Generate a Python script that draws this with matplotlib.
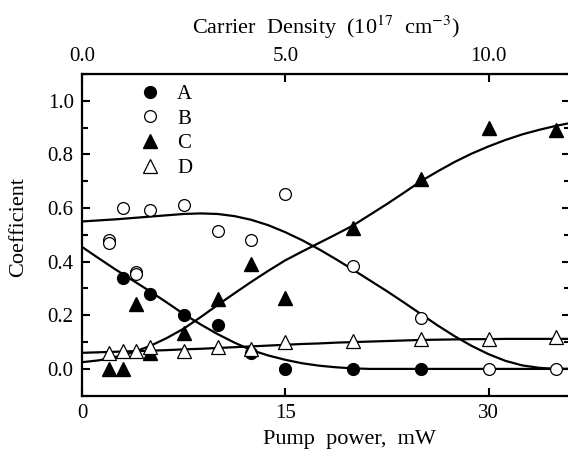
import numpy as np
import matplotlib
matplotlib.use("Agg")
import matplotlib.pyplot as plt

plt.rcParams['font.family'] = ['Liberation Serif', 'DejaVu Serif']
plt.rcParams['mathtext.fontset'] = 'stix'

# measured points (pump power in mW)
a_x = [3, 5, 7.5, 10, 12.5, 15, 20, 25]
a_y = [0.34, 0.28, 0.20, 0.165, 0.06, 0.0, 0.0, 0.0]

b_x = [2, 2, 3, 4, 4, 5, 7.5, 10, 12.5, 15, 20, 25, 30, 35]
b_y = [0.48, 0.47, 0.60, 0.36, 0.355, 0.593, 0.613, 0.516, 0.481, 0.652, 0.385, 0.19, 0.0, 0.0]

c_x = [2, 3, 4, 5, 7.5, 10, 12.5, 15, 20, 25, 30, 35]
c_y = [0.0, 0.0, 0.243, 0.061, 0.135, 0.26, 0.392, 0.266, 0.525, 0.708, 0.90, 0.89]

d_x = [2, 3, 4, 5, 7.5, 10, 12.5, 15, 20, 25, 30, 35]
d_y = [0.061, 0.067, 0.065, 0.083, 0.065, 0.08, 0.073, 0.10, 0.105, 0.112, 0.112, 0.118]

# fitted curves
fit_x = [0, 1.25, 2.5, 3.75, 5, 6.25, 7.5, 8.75, 10, 11.25, 12.5, 13.75, 15, 16.25,
         17.5, 18.75, 20, 21.25, 22.5, 23.75, 25, 26.25, 27.5, 28.75, 30, 31.25,
         32.5, 33.75, 35, 36]
fit_a = [0.455, 0.412, 0.37, 0.33, 0.29, 0.248, 0.205, 0.166, 0.13, 0.098, 0.07, 0.05,
         0.034, 0.021, 0.012, 0.006, 0.002, 0.0, 0.0, 0.0, 0.0, 0.0, 0.0, 0.0, 0.0,
         0.0, 0.0, 0.0, 0.0, 0.0]
fit_b = [0.55, 0.554, 0.558, 0.563, 0.568, 0.573, 0.578, 0.58, 0.578, 0.57, 0.556, 0.536,
         0.51, 0.48, 0.446, 0.409, 0.37, 0.33, 0.29, 0.248, 0.205, 0.162, 0.122, 0.086,
         0.055, 0.03, 0.013, 0.004, 0.0, 0.0]
fit_c = [0.025, 0.032, 0.045, 0.062, 0.085, 0.115, 0.15, 0.193, 0.238, 0.282, 0.325,
         0.366, 0.405, 0.438, 0.47, 0.502, 0.535, 0.575, 0.615, 0.657, 0.70, 0.737,
         0.772, 0.803, 0.83, 0.854, 0.875, 0.892, 0.907, 0.917]
fit_d = [0.06, 0.062, 0.064, 0.066, 0.068, 0.07, 0.073, 0.075, 0.078, 0.081, 0.084,
         0.087, 0.09, 0.093, 0.095, 0.098, 0.10, 0.102, 0.104, 0.106, 0.108, 0.109,
         0.11, 0.111, 0.111, 0.112, 0.112, 0.112, 0.112, 0.112]

fig = plt.figure(figsize=(5.68, 4.55), dpi=100)
ax = fig.add_axes([0.1444, 0.1303, 0.8588, 0.7070])

for fy in (fit_a, fit_b, fit_c, fit_d):
    ax.plot(fit_x, fy, color='black', lw=1.6, zorder=2)

ms = 8.5
ax.plot(a_x, a_y, 'o', ms=ms, mfc='black', mec='black', ls='none', label='A', zorder=3)
ax.plot(b_x, b_y, 'o', ms=ms, mfc='white', mec='black', mew=0.9, ls='none', label='B', zorder=3)
ax.plot(c_x, c_y, '^', ms=ms + 1, mfc='black', mec='black', ls='none', label='C', zorder=3)
ax.plot(d_x, d_y, '^', ms=ms + 1, mfc='white', mec='black', mew=0.9, ls='none', label='D', zorder=3)

ax.set_xlim(0, 36)
ax.set_ylim(-0.1, 1.1)
ax.set_xticks([0, 15, 30])
ax.set_yticks([0.0, 0.2, 0.4, 0.6, 0.8, 1.0])
ax.set_yticks(np.arange(-0.1, 1.11, 0.1), minor=True)
ax.yaxis.set_major_formatter(plt.FormatStrFormatter('%.1f'))
ax.tick_params(which='both', direction='in', labelsize=15, right=True, width=1.5)
ax.tick_params(which='major', length=6, pad=6)
ax.tick_params(which='minor', length=4)
ax.tick_params(axis='x', which='minor', bottom=False, top=False)
for s in ax.spines.values():
    s.set_linewidth(1.6)

ax.set_xlabel('Pump  power,  mW', fontsize=16)
ax.xaxis.set_label_coords(0.549, -0.108)
ax.set_ylabel('Coefficient', fontsize=16)
ax.yaxis.set_label_coords(-0.11, 0.523)

top = ax.secondary_xaxis('top', functions=(lambda x: x / 3.0, lambda x: x * 3.0))
top.set_xticks([0, 5, 10])
top.xaxis.set_major_formatter(plt.FormatStrFormatter('%.1f'))
top.tick_params(direction='in', length=6, width=1.5, labelsize=15, pad=6)
top.set_xlabel(r'Carrier  Density  (10$^{17}$  cm$^{-3}$)', fontsize=16, labelpad=9)

ax.legend(loc='upper left', bbox_to_anchor=(0.08, 1.02), frameon=False, fontsize=15,
          handletextpad=0.7, labelspacing=0.25, handlelength=1.2, borderpad=0.3)

fig.savefig('out.png', dpi=100)
